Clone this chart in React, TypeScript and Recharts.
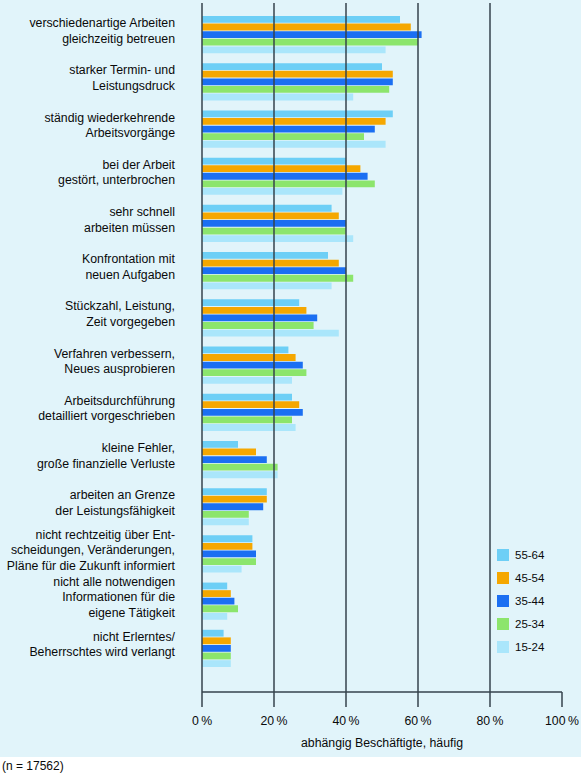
import React from 'react';
import { BarChart, Bar, XAxis, YAxis, ReferenceLine } from 'recharts';

const categories = [
  'verschiedenartige Arbeiten\ngleichzeitig betreuen',
  'starker Termin- und\nLeistungsdruck',
  'ständig wiederkehrende\nArbeitsvorgänge',
  'bei der Arbeit\ngestört, unterbrochen',
  'sehr schnell\narbeiten müssen',
  'Konfrontation mit\nneuen Aufgaben',
  'Stückzahl, Leistung,\nZeit vorgegeben',
  'Verfahren verbessern,\nNeues ausprobieren',
  'Arbeitsdurchführung\ndetailliert vorgeschrieben',
  'kleine Fehler,\ngroße finanzielle Verluste',
  'arbeiten an Grenze\nder Leistungsfähigkeit',
  'nicht rechtzeitig über Ent-\nscheidungen, Veränderungen,\nPläne für die Zukunft informiert',
  'nicht alle notwendigen\nInformationen für die\neigene Tätigkeit',
  'nicht Erlerntes/\nBeherrschtes wird verlangt',
];

const age5564 = [55, 50, 53, 40, 36, 35, 27, 24, 25, 10, 18, 14, 7, 6];
const age4554 = [58, 53, 51, 44, 38, 38, 29, 26, 27, 15, 18, 14, 8, 8];
const age3544 = [61, 53, 48, 46, 40, 40, 32, 28, 28, 18, 17, 15, 9, 8];
const age2534 = [60, 52, 45, 48, 40, 42, 31, 29, 25, 21, 13, 15, 10, 8];
const age1524 = [51, 42, 51, 39, 42, 36, 38, 25, 26, 21, 13, 11, 7, 8];

const xTicks = [0, 20, 40, 60, 80, 100];
const gridLines = [20, 40, 60, 80];

const series = [
  { key: 'a5564', name: '55-64', color: '#6dcff6', values: age5564 },
  { key: 'a4554', name: '45-54', color: '#f5a700', values: age4554 },
  { key: 'a3544', name: '35-44', color: '#1b6ff2', values: age3544 },
  { key: 'a2534', name: '25-34', color: '#8ce56c', values: age2534 },
  { key: 'a1524', name: '15-24', color: '#aae6fb', values: age1524 },
];

const data = categories.map((cat, i) => {
  const row: { [k: string]: string | number } = { cat };
  series.forEach((s) => {
    row[s.key] = s.values[i];
  });
  return row;
});

const FONT = '"Liberation Sans", Arial, sans-serif';
const AXIS = '#34434d';
const TEXT = '#0a0a0a';

const CategoryTick = (props: any) => {
  const { x, y, payload } = props;
  const lines: string[] = String(payload.value).split('\n');
  const lh = 15.5;
  const start = -((lines.length - 1) * lh) / 2 - 4;
  return (
    <text x={x - 19} y={y} textAnchor="end" fontSize={12.3} fill={TEXT} fontFamily={FONT}>
      {lines.map((l, i) => (
        <tspan key={i} x={x - 19} y={y + start + i * lh} dy="0.35em">
          {l}
        </tspan>
      ))}
    </text>
  );
};

// legend drawn by hand so it doesn't eat into the plot height
const AgeLegend = () => (
  <div style={{ position: 'absolute', left: 497, top: 543 }}>
    {series.map((s) => (
      <div key={s.key} style={{ display: 'flex', alignItems: 'center', height: 23 }}>
        <span
          style={{ width: 12, height: 12, background: s.color, display: 'inline-block', marginRight: 6 }}
        />
        <span style={{ fontSize: 11.5, color: TEXT, fontFamily: FONT }}>{s.name}</span>
      </div>
    ))}
  </div>
);

export default function App() {
  return (
    <div style={{ position: 'absolute', left: 0, top: 0, width: 581, height: 773, background: '#fff' }}>
      <div style={{ background: '#e1f4fa', width: 581, height: 757 }}>
        <BarChart
          width={581}
          height={757}
          data={data}
          layout="vertical"
          margin={{ top: 3, right: 19, bottom: 5, left: 0 }}
          barSize={6.8}
          barGap={0.8}
        >
          <XAxis
            type="number"
            domain={[0, 100]}
            ticks={xTicks}
            tickFormatter={(v: number) => `${v}\u2009%`}
            axisLine={{ stroke: AXIS, strokeWidth: 1.5 }}
            tickLine={{ stroke: AXIS, strokeWidth: 1.5 }}
            tickSize={15}
            tickMargin={9}
            tick={{ fontSize: 12.3, fill: TEXT, fontFamily: FONT }}
            height={60}
            label={{
              value: 'abhängig Beschäftigte, häufig',
              position: 'insideBottom',
              offset: 5,
              fontSize: 12.3,
              fill: TEXT,
              fontFamily: FONT,
            }}
          />
          <YAxis
            type="category"
            dataKey="cat"
            width={202}
            axisLine={{ stroke: AXIS, strokeWidth: 1.5 }}
            tickLine={false}
            interval={0}
            tick={<CategoryTick />}
            padding={{ top: 8, bottom: 20 }}
          />
          {gridLines.map((g) => (
            <ReferenceLine key={g} x={g} stroke={AXIS} strokeWidth={1.5} />
          ))}
          {series.map((s) => (
            <Bar key={s.key} dataKey={s.key} name={s.name} fill={s.color} isAnimationActive={false} />
          ))}
        </BarChart>
      </div>
      <AgeLegend />
      <div style={{ position: 'absolute', left: 2, top: 759, fontSize: 12, fontFamily: FONT, color: TEXT }}>
        (n = 17562)
      </div>
    </div>
  );
}
